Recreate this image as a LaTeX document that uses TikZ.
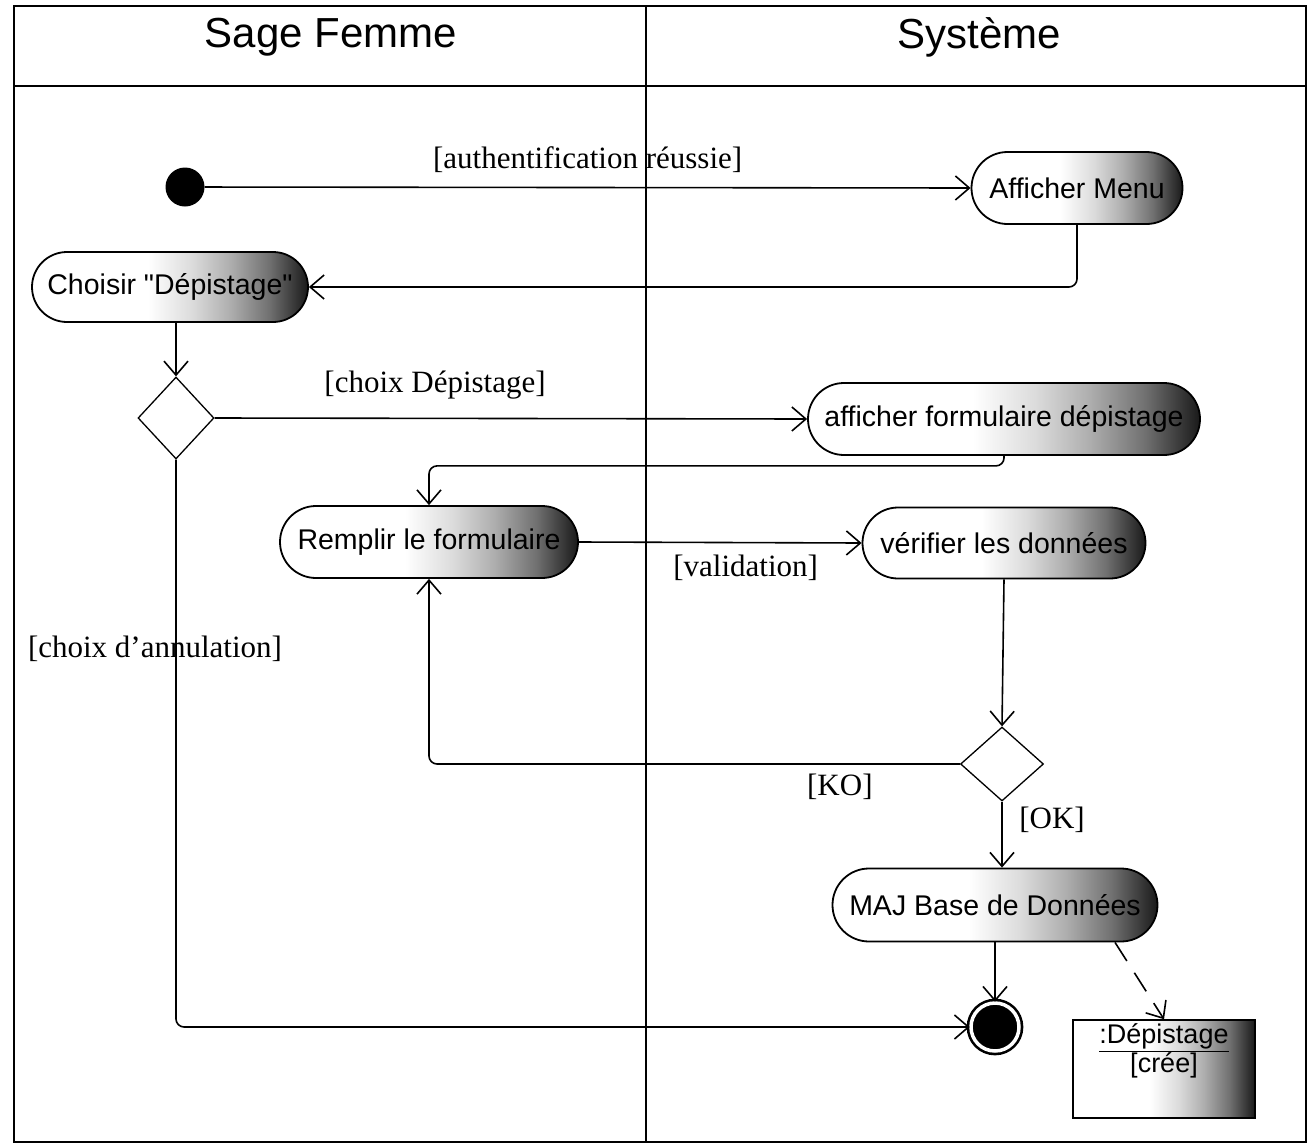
\documentclass[tikz,border=0pt]{standalone}
\usepackage{fontspec}
\setmainfont{Liberation Serif}
\setsansfont{Liberation Sans}[Ligatures=TeXOff]
\usetikzlibrary{arrows.meta,shapes.misc,shapes.geometric}

% white on the left, darkening towards the right end of each action
\pgfdeclarehorizontalshading{pillshade}{100bp}{color(0bp)=(white); color(46bp)=(white); color(54bp)=(black!14); color(61bp)=(black!32); color(68bp)=(black!56); color(75bp)=(black!90); color(100bp)=(black!90)}

\tikzset{
  lane/.style={line width=2.2pt},
  action/.style={rounded rectangle, draw, line width=1.8pt, shade, shading=pillshade,
    font=\sffamily\fontsize{28.5}{30}\selectfont, inner sep=0pt},
  decision/.style={diamond, draw, line width=1.3pt, fill=white, inner sep=0pt},
  flow/.style={line width=1.6pt, -{Straight Barb[length=14pt,width=24pt]}, rounded corners=8pt},
  guard/.style={font=\fontsize{31}{33}\selectfont, inner sep=0pt},
  header/.style={font=\sffamily\fontsize{42}{44}\selectfont, inner sep=0pt},
  startnode/.style={circle, fill=black, minimum size=39pt, inner sep=0pt},
  endnode/.style={circle, fill=black, draw=black, double=white, double distance=3.5pt,
    line width=2.6pt, minimum size=48pt, inner sep=0pt},
  objnode/.style={rectangle, draw, line width=1.5pt, shade, shading=pillshade, inner sep=3pt,
    font=\sffamily\fontsize{27}{27}\selectfont},
}

\begin{document}
\begin{tikzpicture}[x=1pt, y=-1pt]
  \useasboundingbox (0,0) rectangle (1310,1146);

  % swimlanes
  \draw[lane] (14,6) rectangle (1306,1142);
  \draw[lane] (14,86) -- (1306,86);
  \draw[lane] (646,6) -- (646,1142);
  \node[header] (lane1) at (331,37) {Sage Femme};
  \node[header] (lane2) at (979,37) {Système};

  % activity nodes
  \node[startnode] (init) at (185,187) {};
  \node[action, minimum width=211pt, minimum height=72pt] (menu) at (1077,188) {Afficher Menu};
  \node[action, minimum width=276pt, minimum height=70pt] (choisir) at (170,287) {Choisir "Dépistage"};
  \node[decision, minimum width=76pt, minimum height=82pt] (dec1) at (176,418) {};
  \node[action, minimum width=392pt, minimum height=72pt] (affform) at (1004,419) {afficher formulaire dépistage};
  \node[action, minimum width=298pt, minimum height=72pt] (remplir) at (429,542) {Remplir le formulaire};
  \node[action, minimum width=283pt, minimum height=71pt] (verif) at (1004,543) {vérifier les données};
  \node[decision, minimum width=83pt, minimum height=74pt] (dec2) at (1002,764) {};
  \node[action, minimum width=325pt, minimum height=73pt] (maj) at (995,905) {MAJ Base de Données};
  \node[endnode] (final) at (995,1027) {};
  \node[objnode, minimum width=182pt, minimum height=98pt] (obj) at (1164,1069)
    {\parbox[c][90pt][t]{174pt}{\centering\underline{:Dépistage}\\\relax[crée]}};

  % transitions
  \draw[flow] (init) -- node[guard, pos=0.5, yshift=28pt] {[authentification réussie]} (menu.west);
  \draw[flow] (menu.south) |- (choisir.east);
  \draw[flow] (dec1.north |- choisir.south) -- (dec1.north);
  \draw[flow] (dec1.east) -- node[guard, pos=0.372, yshift=33pt] {[choix Dépistage]} (affform.west);
  \draw[flow] (affform.south) -- ++(0,10) -| (remplir.north);
  \draw[flow] (remplir.east) -- node[guard, pos=0.59, yshift=-25pt] {[validation]} (verif.west);
  \draw[flow] (verif.south) -- (dec2.north);
  \draw[flow] (dec2.west) -| node[guard, pos=0.113, yshift=-23pt] {[KO]} (remplir.south);
  \draw[flow] (dec2.south) -- node[guard, pos=0.28, xshift=50pt] {[OK]} (dec2.south |- maj.north);
  \draw[flow] (final.north |- maj.south) -- (final.north);
  \draw[flow, dash pattern=on 22pt off 14pt] ([xshift=120pt]maj.south) -- (obj.north);
  \draw[flow] (dec1.south) |- node[guard, pos=0.167, xshift=-21pt] {[choix d’annulation]} (final.west);
\end{tikzpicture}
\end{document}
